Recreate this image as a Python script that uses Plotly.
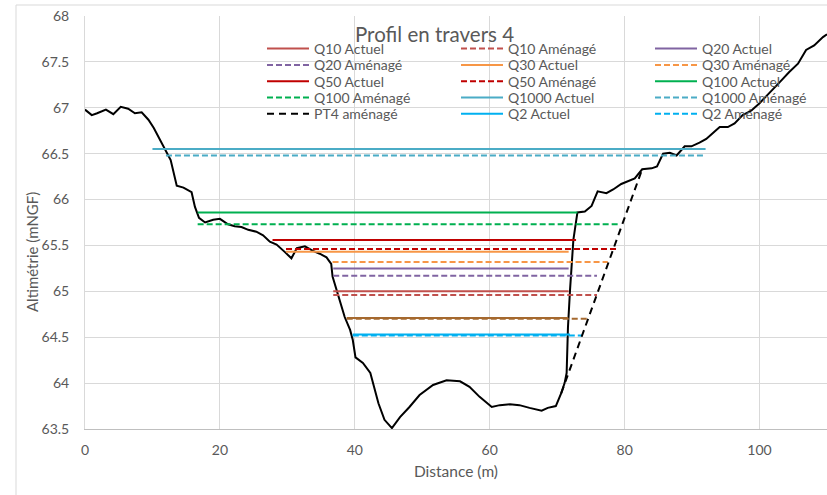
import plotly.graph_objects as go

# Terrain profile (current ground), distance in m / altitude in mNGF
terrain_x = [0, 1.0, 1.8, 3.1, 4.2, 5.3, 6.4, 7.4, 8.4, 9.4, 10.2, 11.6, 12.7, 13.6, 14.6,
             15.8, 16.3, 16.9, 17.8, 19.0, 20.0, 21.2, 22.2, 23.2, 24.2, 25.4, 26.4, 27.4,
             28.4, 29.6, 30.6, 31.4, 32.6, 33.8, 34.8, 35.8, 36.5, 36.7, 37.3, 38.5, 39.3,
             39.7, 40.1, 41.2, 42.3, 43.5, 44.4, 45.5, 46.7, 48.1, 49.6, 51.6, 53.6, 55.6,
             57.0, 58.5, 60.3, 61.5, 63.0, 64.4, 65.9, 67.7, 68.6, 69.8, 70.6, 71.1, 71.4,
             71.6, 71.9, 72.4, 73.0, 74.1, 75.1, 76.0, 77.3, 78.3, 79.5, 81.5, 82.6, 84.0,
             84.8, 85.7, 86.7, 87.7, 88.9, 89.9, 91.1, 92.1, 93.3, 94.1, 95.3, 96.3, 97.5,
             98.8, 100.0, 101.5, 103.0, 104.4, 105.7, 106.9, 108.1, 109.4, 110.0]
terrain_z = [66.98, 66.92, 66.94, 66.98, 66.93, 67.01, 66.99, 66.94, 66.95, 66.87, 66.78,
             66.58, 66.43, 66.15, 66.13, 66.08, 65.92, 65.80, 65.75, 65.78, 65.79, 65.73,
             65.71, 65.70, 65.67, 65.65, 65.61, 65.54, 65.51, 65.43, 65.36, 65.47, 65.49,
             65.44, 65.41, 65.37, 65.30, 65.16, 65.01, 64.72, 64.58, 64.47, 64.28, 64.22,
             64.11, 63.78, 63.60, 63.51, 63.63, 63.74, 63.87, 63.98, 64.03, 64.02, 63.96,
             63.85, 63.74, 63.76, 63.77, 63.76, 63.73, 63.70, 63.73, 63.75, 63.89, 64.00,
             64.11, 64.61, 65.01, 65.56, 65.86, 65.87, 65.93, 66.09, 66.07, 66.11, 66.17,
             66.23, 66.33, 66.34, 66.36, 66.50, 66.51, 66.48, 66.58, 66.58, 66.62, 66.66,
             66.74, 66.79, 66.79, 66.83, 66.92, 66.97, 67.05, 67.16, 67.28, 67.39, 67.48,
             67.63, 67.68, 67.77, 67.80]

# Planned bank (PT4 aménagé)
pt4_x = [70.6, 82.6]
pt4_z = [63.89, 66.33]

# Water levels: name, level, left limit, right limit
wl_names = ["Q10 Actuel", "Q10 Aménagé", "Q20 Actuel", "Q20 Aménagé", "Q30 Actuel",
            "Q30 Aménagé", "Q50 Actuel", "Q50 Aménagé", "Q100 Actuel", "Q100 Aménagé",
            "Q1000 Actuel", "Q1000 Aménagé", "Q2 Actuel", "Q2 Aménagé",
            "Q5 Actuel", "Q5 Aménagé"]
wl_level = [65.00, 64.96, 65.25, 65.17, 65.43, 65.32, 65.56, 65.46, 65.86, 65.73,
            66.55, 66.48, 64.53, 64.52, 64.71, 64.70]
wl_start = [36.8, 36.8, 36.8, 36.8, 29.8, 36.7, 27.8, 29.8, 16.7, 16.7,
            10.0, 12.0, 39.7, 39.7, 38.8, 38.8]
wl_end = [71.7, 75.9, 71.7, 75.9, 71.7, 77.5, 72.8, 78.8, 73.0, 79.3,
          92.0, 92.0, 71.9, 73.7, 71.6, 74.5]
wl_color = ["#C0504D", "#C0504D", "#8064A2", "#8064A2", "#F79646", "#F79646",
            "#C00000", "#C00000", "#00B050", "#00B050", "#4BACC6", "#4BACC6",
            "#00B0F0", "#00B0F0", "#A5692F", "#A5692F"]

# Legend grid: 3 columns x 5 rows, filled row by row
legend_order = ["Q10 Actuel", "Q10 Aménagé", "Q20 Actuel",
                "Q20 Aménagé", "Q30 Actuel", "Q30 Aménagé",
                "Q50 Actuel", "Q50 Aménagé", "Q100 Actuel",
                "Q100 Aménagé", "Q1000 Actuel", "Q1000 Aménagé",
                "PT4 aménagé", "Q2 Actuel", "Q2 Aménagé"]

grey = "#595959"
FONT = "Lato"

PLOT_L, PLOT_R, PLOT_T, PLOT_B = 85, 827, 16, 429
def px_x(p):
    return (p - PLOT_L) / (PLOT_R - PLOT_L)
def px_y(p):
    return (PLOT_B - p) / (PLOT_B - PLOT_T)

col_left = [262, 456, 650]
row_centres = [49, 65.3, 81.6, 97.9, 114.2]

def legend_id(k):
    return "legend" if k == 0 else f"legend{k + 1}"

fig = go.Figure()

fig.add_trace(go.Scatter(x=terrain_x, y=terrain_z, mode="lines", name="PT4 Actuel",
                         line=dict(color="black", width=2), showlegend=False))

for i, name in enumerate(wl_names):
    dashed = "Aménagé" in name
    in_legend = name in legend_order
    fig.add_trace(go.Scatter(
        x=[wl_start[i], wl_end[i]], y=[wl_level[i], wl_level[i]], mode="lines", name=name,
        line=dict(color=wl_color[i], width=2, dash="6px,3px" if dashed else "solid"),
        showlegend=in_legend,
        legend=legend_id(legend_order.index(name)) if in_legend else "legend"))

fig.add_trace(go.Scatter(x=pt4_x, y=pt4_z, mode="lines", name="PT4 aménagé",
                         line=dict(color="black", width=2, dash="7px,5px"),
                         legend=legend_id(legend_order.index("PT4 aménagé"))))

legends = {}
for k in range(len(legend_order)):
    row, col = divmod(k, 3)
    legends[legend_id(k)] = dict(
        orientation="v", xanchor="left", yanchor="middle",
        x=px_x(col_left[col]), y=px_y(row_centres[row]),
        font=dict(family=FONT, size=14, color=grey),
        bgcolor="rgba(0,0,0,0)", borderwidth=0, itemwidth=42)

fig.update_layout(
    width=827, height=495,
    margin=dict(l=PLOT_L, r=827 - PLOT_R, t=PLOT_T, b=495 - PLOT_B),
    paper_bgcolor="white", plot_bgcolor="white",
    font=dict(family=FONT, color=grey),
    xaxis=dict(range=[0, 110], dtick=20, tick0=0, showgrid=True, gridcolor="#D9D9D9",
               gridwidth=1, zeroline=False, showline=True, linecolor="#BFBFBF",
               tickfont=dict(family=FONT, size=14, color=grey), ticks="",
               ticklabelstandoff=8,
               title=dict(text="Distance (m)", font=dict(family=FONT, size=15.5, color=grey),
                          standoff=9)),
    yaxis=dict(range=[63.5, 68], dtick=0.5, tick0=63.5, showgrid=True, gridcolor="#D9D9D9",
               gridwidth=1, zeroline=False, showline=True, linecolor="#D9D9D9",
               tickfont=dict(family=FONT, size=14, color=grey), ticks="",
               ticklabelstandoff=12),
    annotations=[
        dict(text="Profil en travers 4", xref="paper", yref="paper", x=px_x(434), y=px_y(33.5),
             showarrow=False, font=dict(family=FONT, size=20.5, color=grey),
             xanchor="center", yanchor="middle"),
        dict(text="Altimétrie (mNGF)", xref="paper", yref="paper", x=px_x(32), y=px_y(252),
             showarrow=False, textangle=-90, font=dict(family=FONT, size=15, color=grey),
             xanchor="center", yanchor="middle"),
    ],
    shapes=[
        dict(type="rect", xref="paper", yref="paper", x0=px_x(16), x1=px_x(840),
             y0=px_y(520), y1=px_y(5), line=dict(color="#D9D9D9", width=1),
             fillcolor="rgba(0,0,0,0)", layer="below"),
    ],
    **legends,
)

fig.write_html("out.html")
